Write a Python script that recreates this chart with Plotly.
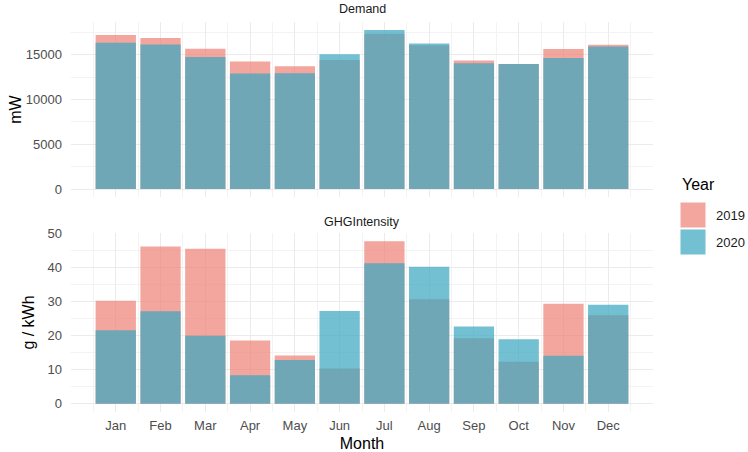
import plotly.graph_objects as go

months = ["Jan", "Feb", "Mar", "Apr", "May", "Jun", "Jul", "Aug", "Sep", "Oct", "Nov", "Dec"]
month_num = list(range(1, 13))
years = ["2019", "2020"]

demand_2019 = [17200, 16850, 15650, 14230, 13700, 14400, 17350, 16050, 14340, 13950, 15630, 16100]
demand_2020 = [16320, 16140, 14750, 12900, 12940, 15040, 17760, 16250, 14050, 13950, 14640, 15900]

ghg_2019 = [30.3, 46.2, 45.6, 18.6, 14.2, 10.4, 47.8, 30.7, 19.3, 12.4, 29.4, 26.0]
ghg_2020 = [21.6, 27.2, 20.0, 8.4, 12.9, 27.3, 41.3, 40.3, 22.7, 19.0, 14.1, 29.1]

col_2019 = "rgba(236,128,116,0.70)"
col_2020 = "rgba(60,168,192,0.72)"

W, H = 748, 452
L, R, T, B = 71, 653, 22, 412
def px_x(p):
    return (p - L) / (R - L)
def px_y(p):
    return (B - p) / (B - T)

fig = go.Figure()
for vals, name, col, ax in [
    (demand_2019, "2019", col_2019, "y"),
    (demand_2020, "2020", col_2020, "y"),
    (ghg_2019, "2019", col_2019, "y2"),
    (ghg_2020, "2020", col_2020, "y2"),
]:
    fig.add_trace(go.Bar(
        x=month_num, y=vals, name=name, width=0.9,
        marker=dict(color=col, line=dict(width=0)),
        xaxis="x" if ax == "y" else "x2", yaxis=ax,
        showlegend=False,
    ))

grid_major = "#EBEBEB"
grid_minor = "#F3F3F3"
xcommon = dict(
    range=[0, 13], tickvals=month_num, ticktext=months,
    showgrid=True, gridcolor=grid_major, gridwidth=1,
    minor=dict(tick0=0, dtick=0.5, showgrid=True, gridcolor=grid_minor, gridwidth=1),
    zeroline=False, showline=False, ticks="", automargin=False,
    tickfont=dict(family="Liberation Sans", size=13, color="#4D4D4D"),
    ticklabelstandoff=4,
)
ycommon = dict(
    showgrid=True, gridcolor=grid_major, gridwidth=1,
    zeroline=False, showline=False, ticks="", automargin=False,
    tickformat="d",
    tickfont=dict(family="Liberation Sans", size=13, color="#4D4D4D"),
    ticklabelstandoff=8,
)

top_lo = px_y(197)
bot_hi = px_y(233)

fig.update_layout(
    width=W, height=H,
    margin=dict(l=L, r=W - R, t=T, b=H - B, autoexpand=False),
    paper_bgcolor="white", plot_bgcolor="white",
    barmode="overlay",
    font=dict(family="Liberation Sans", color="#1A1A1A"),
    xaxis=dict(**xcommon, domain=[0, 1], anchor="y", showticklabels=False, matches="x2"),
    xaxis2=dict(**xcommon, domain=[0, 1], anchor="y2",
                title=dict(text="Month", font=dict(size=16, color="#000000"), standoff=5)),
    yaxis=dict(**ycommon, domain=[top_lo, 1], range=[-888, 18648],
               tickvals=[0, 5000, 10000, 15000],
               minor=dict(tickvals=[2500, 7500, 12500, 17500], showgrid=True, gridcolor=grid_minor, gridwidth=1),
               title=dict(text="mW", font=dict(size=16, color="#000000"), standoff=0)),
    yaxis2=dict(**ycommon, domain=[0, bot_hi], range=[-2.39, 50.19],
                tickvals=[0, 10, 20, 30, 40, 50],
                minor=dict(tickvals=[5, 15, 25, 35, 45], showgrid=True, gridcolor=grid_minor, gridwidth=1),
                title=dict(text="g / kWh", font=dict(size=16, color="#000000"), standoff=8)),
)

# facet strip labels
fig.add_annotation(text="Demand", xref="paper", yref="paper", x=0.5, y=px_y(9),
                   showarrow=False, font=dict(size=12.5, color="#1A1A1A"), xanchor="center", yanchor="middle")
fig.add_annotation(text="GHGIntensity", xref="paper", yref="paper", x=0.5, y=px_y(222),
                   showarrow=False, font=dict(size=12.5, color="#1A1A1A"), xanchor="center", yanchor="middle")

# legend (ggplot style)
fig.add_annotation(text="Year", xref="paper", yref="paper", x=px_x(680), y=px_y(185),
                   showarrow=False, font=dict(size=16, color="#000000"), xanchor="left", yanchor="middle")
for i, (lab, col) in enumerate([(years[0], col_2019), (years[1], col_2020)]):
    y0 = 202.5 + i * 27
    fig.add_shape(type="rect", xref="paper", yref="paper",
                  x0=px_x(680.5), x1=px_x(705.5), y0=px_y(y0), y1=px_y(y0 + 25),
                  fillcolor=col, line=dict(width=0), layer="above")
    fig.add_annotation(text=lab, xref="paper", yref="paper", x=px_x(714), y=px_y(y0 + 12.5),
                       showarrow=False, font=dict(size=13, color="#1A1A1A"), xanchor="left", yanchor="middle")

fig.write_html("out.html", config={"displayModeBar": False},
               post_script="document.body.style.margin='0';")
